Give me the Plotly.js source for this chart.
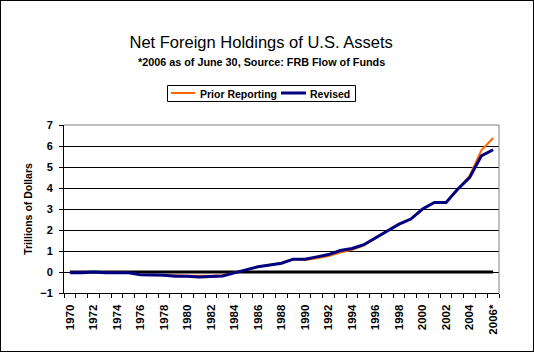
<!DOCTYPE html>
<html>
<head>
<meta charset="utf-8">
<script src="https://cdn.plot.ly/plotly-3.0.1.min.js"></script>
<style>
  html, body { margin: 0; padding: 0; background: #fff; }
  #chart { position: absolute; left: 0; top: 0; width: 534px; height: 352px; }
  #frame { position: absolute; left: 0; top: 0; width: 534px; height: 352px; box-sizing: border-box; border: 1px solid #000; pointer-events: none; }
</style>
</head>
<body>
<div id="chart"></div>
<div id="frame"></div>
<script>
const years = ["1970","1971","1972","1973","1974","1975","1976","1977","1978","1979",
               "1980","1981","1982","1983","1984","1985","1986","1987","1988","1989",
               "1990","1991","1992","1993","1994","1995","1996","1997","1998","1999",
               "2000","2001","2002","2003","2004","2005","2006"];
const tickLabels = ["1970","","1972","","1974","","1976","","1978","",
                    "1980","","1982","","1984","","1986","","1988","",
                    "1990","","1992","","1994","","1996","","1998","",
                    "2000","","2002","","2004","","2006*"];
const seriesNames = ["Prior Reporting", "Revised"];
const priorReporting = [-0.04,-0.04,0.0,-0.04,-0.04,-0.04,-0.13,-0.13,-0.13,-0.16,
                        -0.18,-0.19,-0.18,-0.15,-0.04,0.1,0.25,0.33,0.42,0.61,
                        0.57,0.65,0.76,0.93,1.06,1.26,1.62,1.96,2.28,2.52,
                        3.0,3.31,3.31,3.95,4.58,5.8,6.38];
const revised = [-0.04,-0.04,0.0,-0.04,-0.04,-0.04,-0.13,-0.13,-0.15,-0.2,
                 -0.2,-0.24,-0.2,-0.19,-0.04,0.1,0.25,0.33,0.42,0.61,
                 0.61,0.72,0.83,1.02,1.12,1.3,1.62,1.96,2.28,2.52,
                 3.0,3.31,3.31,3.95,4.5,5.53,5.82];
const zeroLine = years.map(() => 0);

const FONT = "Liberation Sans, Arial, sans-serif";
const ORANGE = "#FF6600", NAVY = "#000080";

// plot area in pixels: x 64..499, y 125..293
const px = v => (v - 64) / 435;
const py = v => (293 - v) / 168;

const traces = [
  { x: years, y: zeroLine, type: "scatter", mode: "lines", showlegend: false, hoverinfo: "skip",
    line: { color: "#000000", width: 3 } },
  { x: years, y: priorReporting, type: "scatter", mode: "lines", name: seriesNames[0],
    line: { color: ORANGE, width: 2 } },
  { x: years, y: revised, type: "scatter", mode: "lines", name: seriesNames[1],
    line: { color: NAVY, width: 3 } }
];

const legFont = { family: FONT, size: 10.5, weight: "bold", color: "#000" };

const layout = {
  width: 534, height: 352,
  margin: { l: 64, r: 35, t: 125, b: 59 },
  paper_bgcolor: "#ffffff", plot_bgcolor: "#ffffff",
  font: { family: FONT, color: "#000", size: 11 },
  showlegend: false,
  title: { text: "Net Foreign Holdings of U.S. Assets", font: { family: FONT, size: 16.5, color: "#000" },
           xref: "container", x: 0.489, xanchor: "center", yref: "container", y: 1 - 42/352, yanchor: "middle" },
  annotations: [
    { text: "*2006 as of June 30, Source: FRB Flow of Funds", xref: "paper", yref: "paper",
      x: px(261), y: py(62), xanchor: "center", yanchor: "middle", showarrow: false,
      font: { family: FONT, size: 10.8, weight: "bold", color: "#000" } },
    { text: seriesNames[0], xref: "paper", yref: "paper", x: px(198), y: py(93.5),
      xanchor: "left", yanchor: "middle", showarrow: false, font: legFont },
    { text: seriesNames[1], xref: "paper", yref: "paper", x: px(308), y: py(93.5),
      xanchor: "left", yanchor: "middle", showarrow: false, font: legFont }
  ],
  xaxis: {
    type: "category", range: [-0.5, 36.5], tickmode: "array", tickvals: years, ticktext: tickLabels,
    tickson: "boundaries", ticks: "outside", ticklen: 4, tickcolor: "#000", tickwidth: 1,
    tickangle: -90, ticklabelstandoff: 6, showline: true, linecolor: "#000", linewidth: 1, showgrid: false, zeroline: false,
    tickfont: { family: FONT, size: 11.5, weight: "bold", color: "#000" }
  },
  yaxis: {
    range: [-1, 7], dtick: 1, ticks: "outside", ticklen: 4, tickcolor: "#000", tickwidth: 1,
    ticklabelstandoff: 4,
    showline: true, linecolor: "#000", linewidth: 1, showgrid: true, gridcolor: "#000", gridwidth: 1,
    zeroline: false,
    tickfont: { family: FONT, size: 11, weight: "bold", color: "#000" },
    title: { text: "Trillions of Dollars", standoff: 5, font: { family: FONT, size: 10.5, weight: "bold", color: "#000" } }
  },
  shapes: [
    { type: "line", xref: "paper", yref: "paper", x0: 0, x1: 1, y0: 1, y1: 1, layer: "above",
      line: { color: "#808080", width: 1 } },
    { type: "line", xref: "paper", yref: "paper", x0: 1, x1: 1, y0: 0, y1: 1, layer: "above",
      line: { color: "#808080", width: 1 } },
    { type: "rect", xref: "paper", yref: "paper", x0: px(167.5), x1: px(355.5), y0: py(101.5), y1: py(85.5),
      line: { color: "#000", width: 1 }, fillcolor: "#fff", layer: "above" },
    { type: "line", xref: "paper", yref: "paper", x0: px(171), x1: px(195), y0: py(93), y1: py(93),
      line: { color: ORANGE, width: 2 }, layer: "above" },
    { type: "line", xref: "paper", yref: "paper", x0: px(281), x1: px(306), y0: py(93), y1: py(93),
      line: { color: NAVY, width: 3 }, layer: "above" }
  ]
};

Plotly.newPlot("chart", traces, layout, { displayModeBar: false, staticPlot: true });
</script>
</body>
</html>
